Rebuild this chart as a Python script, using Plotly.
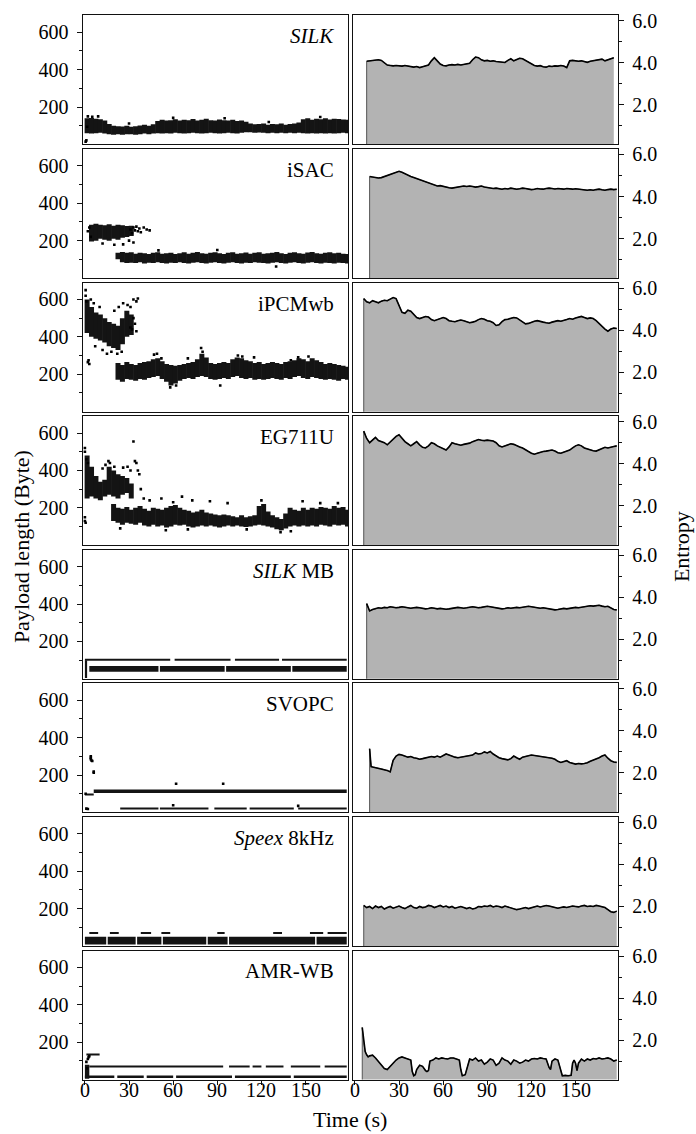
import plotly.graph_objects as go

W, H = 696, 1134
FONT = "Liberation Serif"

CODECS = ["<i>SILK</i>", "iSAC", "iPCMwb", "EG711U", "<i>SILK</i> MB", "SVOPC",
          "<i>Speex</i> 8kHz", "AMR-WB"]

X_TICKS = [0, 30, 60, 90, 120, 150]
PAY_TICKS = [200, 400, 600]
PAY_MINOR = [100, 300, 500]
ENT_TICKS = [2, 4, 6]
ENT_TICKTEXT = ["2.0", "4.0", "6.0"]
ENT_MINOR = [1, 3, 5]

# ---------------- payload length (dense point clouds as 3-s bins: low/high) ----
GRID_T = list(range(0, 178, 3))
N = None

SILK_LO = [60,58,60,62,58,55,52,55,52,55, 55,52,55,58,55,58,60,58,60,58,
           62,60,58,60,62,60,58,60,62,60, 58,60,62,60,58,62,65,65,62,64,
           62,60,62,60,62,60,62,60,62,60, 58,60,58,60,58,60,58,60,62,60]
SILK_HI = [140,142,138,135,128,110,100,98,96,100, 95,98,102,105,100,108,125,132,128,130,
           135,128,132,130,136,128,132,138,130,128, 134,130,128,132,126,128,122,112,108,110,
           112,106,110,108,112,106,110,112,118,135, 140,132,138,135,140,134,138,136,134,132]
SILK_OUT_T = [0.5, 1.0, 1.5, 2.0, 5, 9, 30, 60, 95, 125, 160]
SILK_OUT_V = [15, 22, 95, 150, 148, 150, 112, 142, 140, 120, 147]

ISAC_UP_LO = [N,195,200,210,205,200,210,205,215,220,225] + [N]*49
ISAC_UP_HI = [N,285,290,285,282,288,280,285,282,278,280] + [N]*49
ISAC_LO = [N]*7 + [100,85,80,82,80,85,78,82,80,85, 80,78,82,80,85,80,78,82,85,80,
                   78,82,85,80,78,82,85,80,78,82, 80,85,82,80,78,82,85,80,78,82,
                   85,80,78,82,85,80,78,82,80,78, 82,80,78]
ISAC_HI = [N]*7 + [135,140,135,138,130,135,132,128,135,138, 130,132,135,128,132,138,130,135,140,132,
                   130,135,138,132,128,135,138,130,132,136, 130,135,138,130,132,135,140,132,128,135,
                   138,132,130,136,140,132,130,135,138,132, 135,130,128]
ISAC_OUT_T = [2, 3, 4, 31, 32, 33, 34, 35, 36, 37, 38, 40, 42, 44, 30, 33, 26, 20, 12, 50, 90, 130]
ISAC_OUT_V = [250, 270, 220, 260, 240, 270, 255, 275, 250, 265, 245, 270, 260, 255, 200, 190, 180, 178, 185, 148, 150, 62]

IPCM_UP_LO = [420,400,390,380,370,350,340,330,360,400,410] + [N]*49
IPCM_UP_HI = [600,560,530,520,500,480,470,460,500,540,520] + [N]*49
IPCM_LO = [N]*7 + [170,160,175,170,165,175,170,180,185,190, 175,160,140,150,165,175,180,175,185,190,
                   185,175,170,175,180,175,185,190,180,175, 180,170,175,170,175,180,175,170,180,175,
                   185,190,180,175,185,180,175,170,175,170, 165,175,170]
IPCM_HI = [N]*7 + [260,250,265,255,250,260,265,270,280,285, 270,255,250,245,250,255,260,265,280,310,
                   290,260,255,260,265,260,280,290,285,275, 270,260,265,255,260,265,260,255,265,270,
                   275,285,280,270,285,275,265,255,260,255, 250,245,240]
IPCM_OUT_T = [0.5, 0.5, 1, 2, 2.5, 3, 4, 6, 10, 12, 15, 18, 20, 23, 26, 29, 31, 32, 33, 34, 35, 36,
              35, 33, 31, 7, 22, 25, 47, 49, 52, 58, 62, 79, 80, 104, 107, 145, 152, 70, 92, 115, 140]
IPCM_OUT_V = [650, 620, 590, 265, 275, 255, 600, 580, 560, 330, 310, 320, 540, 560, 580, 570, 560,
              440, 600, 470, 590, 605, 430, 500, 450, 350, 310, 320, 305, 310, 285, 130, 140, 340,
              320, 300, 295, 290, 295, 285, 140, 290, 275]

EG_UP_LO = [250,260,250,240,260,270,260,250,270,280,250] + [N]*49
EG_UP_HI = [480,420,370,340,350,420,400,380,370,360,330] + [N]*49
EG_LO = [N]*6 + [130,120,110,120,115,110,120,105,100,110, 100,105,95,100,110,105,110,100,95,100,
                 105,100,105,100,95,100,105,100,105,100, 98,100,105,110,105,100,95,85,80,90,
                 100,105,100,105,100,105,100,110,105,100, 110,105,110,100]
EG_HI = [N]*6 + [220,200,195,205,190,200,210,195,185,200, 195,190,200,210,215,200,190,185,175,180,
                 190,175,170,165,160,165,160,155,150,160, 150,155,160,210,220,180,160,150,140,170,
                 200,190,185,200,190,200,195,205,200,195, 210,200,205,190]
EG_OUT_T = [0, 0, 0, 0, 0.5, 1, 2, 12, 14, 16, 17, 20, 26, 29, 31, 33, 34, 35, 36, 37, 38, 40, 44,
            52, 60, 66, 73, 85, 97, 120, 133, 148, 160, 172, 24, 55, 70, 110, 140]
EG_OUT_V = [520, 500, 150, 130, 120, 460, 440, 410, 430, 450, 440, 420, 415, 420, 400, 555, 450,
            440, 400, 380, 300, 250, 240, 250, 230, 260, 240, 235, 225, 240, 70, 235, 225, 225,
            90, 80, 85, 85, 75]

# flat codecs: segments [t_start, t_end, low, high] (s, Byte)
SILKMB_SEGS = [[0, 1.5, 5, 100], [0, 58, 98, 106], [61, 99, 98, 106], [102, 132, 98, 106],
               [134, 178, 98, 106], [3, 50, 38, 68], [51, 95, 38, 68], [96, 140, 38, 68],
               [141, 178, 38, 68]]
SVOPC_SEGS = [[0, 6, 93, 99], [6, 178, 104, 122], [24, 50, 17, 23], [51, 84, 15, 26],
              [88, 110, 17, 23], [112, 142, 15, 26], [145, 178, 17, 23]]
SVOPC_OUT_T = [4, 4, 4, 4.5, 5, 6, 6, 62, 94, 1, 2, 0.5, 60, 145]
SVOPC_OUT_V = [300, 292, 285, 278, 275, 218, 212, 153, 153, 20, 18, 100, 38, 35]
SPEEX_SEGS = [[0, 14.5, 8, 50], [15.5, 34.5, 8, 50], [35.5, 52, 8, 50], [53, 82.5, 8, 50],
              [83.5, 97, 8, 50], [98, 156.5, 8, 50], [157.5, 178, 8, 50],
              [3, 9, 66, 73], [17, 23, 66, 73], [38, 45, 66, 73], [52, 58, 66, 73],
              [90, 95, 66, 73], [128, 134, 66, 73], [153, 162, 66, 73], [165, 178, 66, 73]]
AMR_SEGS = [[1, 10, 131, 139], [0, 3, 5, 80], [3, 94, 66, 74], [98, 112, 66, 74],
            [114, 120, 66, 74], [123, 135, 66, 74], [140, 160, 66, 74], [163, 178, 66, 74],
            [0, 20, 8, 22], [22, 40, 8, 22], [42, 60, 8, 22], [62, 100, 8, 22],
            [102, 140, 8, 22], [142, 178, 8, 22]]
AMR_OUT_T = [1, 2, 2.5, 3, 1.5]
AMR_OUT_V = [95, 110, 120, 125, 60]

# ---------------- entropy ----------------
SILK_E_T = list(range(8, 179, 2))
SILK_E = [4.08,4.1,4.12,4.14,4.15,4.12,4.0,3.9,3.88,3.86,3.88,3.87,3.85,3.88,3.86,3.84,3.8,3.83,
          3.78,3.82,3.85,3.9,4.1,4.25,4.1,3.95,3.88,3.86,3.9,3.92,3.9,3.93,3.9,3.92,3.95,3.98,
          4.15,4.28,4.25,4.15,4.1,4.12,4.08,4.1,4.07,4.05,4.02,4.02,4.12,4.2,4.1,4.15,4.22,4.2,
          4.12,4.05,3.98,3.88,3.85,3.87,3.82,3.8,3.85,3.83,3.86,3.85,3.88,3.85,3.78,4.1,4.12,
          4.1,4.08,4.1,4.05,4.03,4.08,4.1,4.12,4.15,4.18,4.1,4.15,4.2,4.25]
ISAC_E_T = list(range(10, 179, 2))
ISAC_E = [4.95,4.92,4.9,4.88,4.9,4.95,5.0,5.05,5.12,5.18,5.2,5.15,5.08,5.0,4.95,4.9,4.85,4.8,
          4.75,4.7,4.65,4.6,4.55,4.5,4.52,4.48,4.45,4.42,4.4,4.42,4.45,4.48,4.5,4.48,4.5,4.48,
          4.45,4.47,4.5,4.45,4.42,4.4,4.38,4.4,4.38,4.35,4.38,4.36,4.4,4.38,4.35,4.37,4.4,4.38,
          4.35,4.33,4.35,4.38,4.36,4.35,4.38,4.4,4.38,4.36,4.38,4.37,4.35,4.38,4.36,4.35,4.37,
          4.35,4.33,4.32,4.3,4.32,4.3,4.33,4.35,4.32,4.3,4.33,4.35,4.33,4.35]
IPCM_E_T = list(range(6, 179, 2))
IPCM_E = [5.5,5.35,5.3,5.4,5.35,5.3,5.38,5.42,5.4,5.48,5.55,5.5,5.2,4.85,4.8,4.95,4.9,4.75,4.6,
          4.55,4.6,4.65,4.62,4.5,4.45,4.5,4.55,4.6,4.55,4.45,4.42,4.4,4.45,4.48,4.45,4.4,4.35,
          4.38,4.42,4.5,4.55,4.52,4.45,4.42,4.35,4.22,4.25,4.4,4.5,4.52,4.55,4.6,4.58,4.5,4.4,
          4.3,4.32,4.38,4.42,4.45,4.4,4.38,4.35,4.33,4.38,4.42,4.45,4.42,4.45,4.5,4.55,4.52,
          4.58,4.62,4.65,4.6,4.55,4.58,4.55,4.45,4.3,4.2,4.05,3.95,4.05,4.1,4.08]
EG_E_T = list(range(6, 179, 2))
EG_E = [5.55,5.2,5.0,5.15,5.25,5.1,5.05,5.0,4.9,5.05,5.15,5.3,5.38,5.2,5.05,4.95,4.85,4.95,5.05,
        4.9,4.78,4.75,4.85,5.0,4.95,4.85,4.78,4.7,4.65,4.8,5.0,4.95,4.9,4.88,4.92,4.95,4.98,
        5.05,5.1,5.15,5.12,5.1,5.12,5.1,5.08,5.0,4.85,4.8,4.85,4.9,4.95,4.92,4.85,4.8,4.75,
        4.65,4.58,4.5,4.45,4.5,4.55,4.58,4.6,4.62,4.65,4.6,4.52,4.5,4.55,4.6,4.65,4.75,4.85,
        4.9,4.85,4.75,4.7,4.68,4.62,4.6,4.65,4.72,4.78,4.75,4.8,4.82,4.85]
SILKMB_E_T = list(range(8, 179, 2))
SILKMB_E = [3.7,3.35,3.42,3.45,3.5,3.48,3.52,3.5,3.55,3.53,3.5,3.52,3.55,3.53,3.5,3.48,3.5,3.52,
            3.5,3.48,3.45,3.47,3.5,3.48,3.45,3.47,3.45,3.43,3.45,3.48,3.5,3.52,3.5,3.48,3.5,
            3.52,3.55,3.53,3.5,3.52,3.55,3.57,3.55,3.52,3.5,3.48,3.45,3.47,3.5,3.48,3.5,3.52,
            3.5,3.53,3.55,3.57,3.55,3.52,3.5,3.48,3.5,3.47,3.45,3.42,3.4,3.42,3.45,3.47,3.45,
            3.48,3.5,3.52,3.5,3.53,3.55,3.57,3.6,3.58,3.6,3.62,3.58,3.55,3.57,3.5,3.42,3.4]
SVOPC_E_T = [10, 11] + list(range(12, 179, 2))
SVOPC_E = [3.15,2.3,2.28,2.25,2.22,2.2,2.15,2.12,2.05,2.6,2.8,2.88,2.85,2.8,2.75,2.78,2.72,2.7,
           2.65,2.68,2.72,2.75,2.78,2.75,2.8,2.75,2.82,2.9,2.85,2.78,2.75,2.72,2.75,2.78,2.8,
           2.82,2.85,2.95,2.9,2.92,3.0,2.95,3.02,2.9,2.8,2.72,2.68,2.65,2.62,2.68,2.8,2.72,2.65,
           2.75,2.8,2.82,2.85,2.83,2.82,2.8,2.78,2.75,2.72,2.7,2.65,2.55,2.5,2.55,2.58,2.5,2.45,
           2.42,2.45,2.43,2.45,2.48,2.55,2.6,2.65,2.72,2.8,2.85,2.7,2.58,2.52,2.5]
SPEEX_E_T = list(range(6, 179, 2))
SPEEX_E = [2.05,1.95,2.0,1.9,2.02,1.95,2.0,1.88,1.95,2.0,1.92,1.98,2.02,1.95,1.9,1.98,2.05,1.95,
           1.92,2.0,1.95,1.98,2.05,2.02,1.95,2.0,2.05,1.98,2.02,1.95,2.0,1.92,1.97,2.0,1.95,1.9,
           1.95,1.88,1.92,2.0,1.98,2.02,2.0,2.05,1.98,2.02,2.0,1.95,2.02,1.98,1.92,1.88,1.85,
           1.88,1.92,1.95,1.9,1.95,2.0,2.02,1.98,2.0,2.05,2.02,1.98,1.95,1.92,1.95,1.98,1.95,
           1.98,2.02,2.0,1.98,2.02,2.05,2.0,2.02,2.0,2.05,2.02,2.0,1.95,1.85,1.75,1.72,1.78]
AMR_E_T = [5,6,7,8,9,10,12,14,16,18,20,22,24,26,28,30,32,34,36,38,39,40,41,42,44,46,48,49,50,51,
           53,55,57,59,61,63,65,67,69,71,72,73,75,76,78,80,82,84,86,88,90,92,94,96,98,100,102,
           104,106,108,110,112,114,116,118,120,122,124,126,128,130,132,133,134,136,138,140,141,
           143,145,147,148,149,150,151,152,154,156,158,160,162,164,166,168,170,172,174,176,178]
AMR_E = [2.6,1.9,1.45,1.3,1.2,1.25,1.28,1.15,1.0,0.85,0.65,0.6,0.75,0.95,1.05,1.15,1.2,1.15,1.1,
         1.05,0.5,0.3,0.35,0.6,0.8,0.75,0.55,0.5,0.55,1.0,1.05,1.15,1.1,1.15,1.12,1.1,1.15,1.15,
         1.1,1.05,0.6,0.3,0.35,0.6,1.1,1.05,1.15,1.0,1.05,0.85,0.95,1.1,1.05,0.8,0.9,1.15,1.05,
         1.0,0.85,1.05,1.0,0.9,0.95,1.05,1.0,1.1,1.12,1.1,1.15,1.12,1.1,0.7,0.6,1.0,1.1,1.05,
         0.45,0.3,0.32,0.3,0.32,0.9,1.05,0.9,0.55,0.9,1.1,1.0,1.1,1.05,1.12,1.1,1.15,1.1,1.12,
         1.15,1.1,1.0,1.05]

PAYLOAD = [
    dict(grid=[(SILK_LO, SILK_HI)], segs=[], out=(SILK_OUT_T, SILK_OUT_V)),
    dict(grid=[(ISAC_UP_LO, ISAC_UP_HI), (ISAC_LO, ISAC_HI)], segs=[], out=(ISAC_OUT_T, ISAC_OUT_V)),
    dict(grid=[(IPCM_UP_LO, IPCM_UP_HI), (IPCM_LO, IPCM_HI)], segs=[], out=(IPCM_OUT_T, IPCM_OUT_V)),
    dict(grid=[(EG_UP_LO, EG_UP_HI), (EG_LO, EG_HI)], segs=[], out=(EG_OUT_T, EG_OUT_V)),
    dict(grid=[], segs=SILKMB_SEGS, out=([], [])),
    dict(grid=[], segs=SVOPC_SEGS, out=(SVOPC_OUT_T, SVOPC_OUT_V)),
    dict(grid=[], segs=SPEEX_SEGS, out=([], [])),
    dict(grid=[], segs=AMR_SEGS, out=(AMR_OUT_T, AMR_OUT_V)),
]
ENTROPY = [(SILK_E_T, SILK_E), (ISAC_E_T, ISAC_E), (IPCM_E_T, IPCM_E), (EG_E_T, EG_E),
           (SILKMB_E_T, SILKMB_E), (SVOPC_E_T, SVOPC_E), (SPEEX_E_T, SPEEX_E), (AMR_E_T, AMR_E)]

# ---------------- layout geometry (pixels) ----------------
ROW_TOP0, PITCH, ROW_H = 9.5, 134.3, 129.7
LX0, LX1 = 82.7, 348.2
RX0, RX1 = 352.7, 618.2
XR = [-1.5, 179]
PAY_R = [0, 690]
ENT_R = [0.12, 6.26]

fig = go.Figure()
layout = {}
axis_font = dict(family=FONT, size=20, color="black")
title_font = dict(family=FONT, size=22, color="black")


def px_x(p):
    return p / W


def px_y(p):
    return 1 - p / H


def add_bars(xa, ya, t0, t1, lo, hi, pad):
    fig.add_trace(go.Bar(x=[(a + b) / 2 for a, b in zip(t0, t1)],
                         y=[h - l for l, h in zip(lo, hi)], base=lo,
                         width=[b - a + pad for a, b in zip(t0, t1)],
                         marker=dict(color="#141414", line=dict(width=0)), opacity=1,
                         xaxis=xa, yaxis=ya, showlegend=False, hoverinfo="skip"))


annotations = []
for r in range(8):
    top = ROW_TOP0 + r * PITCH
    bot = top + ROW_H
    ydom = [px_y(bot), px_y(top)]
    li, ri = 2 * r + 1, 2 * r + 2
    lx, ly = f"x{li}", f"y{li}"
    rx, ry = f"x{ri}", f"y{ri}"
    last = r == 7
    for idx, dom in ((li, [px_x(LX0), px_x(LX1)]), (ri, [px_x(RX0), px_x(RX1)])):
        key = "xaxis" if idx == 1 else f"xaxis{idx}"
        layout[key] = dict(domain=dom, range=XR, anchor=f"y{idx}", showgrid=False,
                           zeroline=False, showline=True, linecolor="#111", linewidth=1.3,
                           mirror=True, ticks="outside" if last else "",
                           tickvals=X_TICKS if last else [], showticklabels=False,
                           ticklen=4, tickwidth=1, tickcolor="#111")
        if last:
            # x tick labels placed on the axis's own data coordinates
            for v in X_TICKS:
                annotations.append(dict(text=str(v), xref=f"x{idx}", yref="paper", x=v,
                                        y=px_y(1090), xanchor="center", yanchor="middle",
                                        showarrow=False, font=axis_font))
    layout["yaxis" if li == 1 else f"yaxis{li}"] = dict(
        domain=ydom, range=PAY_R, anchor=lx, showgrid=False, zeroline=False, showline=True,
        linecolor="#111", linewidth=1.3, mirror=True, ticks="outside", tickvals=PAY_TICKS,
        ticklen=5, tickwidth=1, tickcolor="#111", tickfont=axis_font, ticklabelstandoff=4,
        minor=dict(tickvals=PAY_MINOR, ticks="outside", ticklen=3, tickcolor="#111"))
    layout[f"yaxis{ri}"] = dict(
        domain=ydom, range=ENT_R, anchor=rx, side="right", showgrid=False, zeroline=False,
        showline=True, linecolor="#111", linewidth=1.3, mirror=True, ticks="outside",
        tickvals=ENT_TICKS, ticktext=ENT_TICKTEXT, ticklen=5, tickwidth=1, tickcolor="#111",
        tickfont=axis_font, ticklabelstandoff=4,
        minor=dict(tickvals=ENT_MINOR, ticks="outside", ticklen=3, tickcolor="#111"))

    # payload cloud
    spec = PAYLOAD[r]
    for lo_l, hi_l in spec["grid"]:
        t0, t1, lo, hi = [], [], [], []
        for t, a, b in zip(GRID_T, lo_l, hi_l):
            if a is None:
                continue
            t0.append(t); t1.append(t + 3); lo.append(a); hi.append(b)
        add_bars(lx, ly, t0, t1, lo, hi, 0.4)
    if spec["segs"]:
        s = spec["segs"]
        add_bars(lx, ly, [q[0] for q in s], [q[1] for q in s], [q[2] for q in s],
                 [q[3] for q in s], 0)
    ot, ov = spec["out"]
    if ot:
        fig.add_trace(go.Scatter(x=ot, y=ov, mode="markers",
                                 marker=dict(color="black", size=2.6, symbol="square"),
                                 xaxis=lx, yaxis=ly, showlegend=False, hoverinfo="skip"))

    # entropy area
    et, ev = ENTROPY[r]
    fig.add_trace(go.Scatter(x=[et[0]] + et, y=[0] + ev, mode="lines", fill="tozeroy",
                             fillcolor="#b3b3b3", line=dict(color="#555", width=1),
                             xaxis=rx, yaxis=ry, showlegend=False, hoverinfo="skip"))
    fig.add_trace(go.Scatter(x=et, y=ev, mode="lines", line=dict(color="black", width=1.6),
                             xaxis=rx, yaxis=ry, showlegend=False, hoverinfo="skip"))

for r, name in enumerate(CODECS):
    top = ROW_TOP0 + r * PITCH
    annotations.append(dict(text=name, xref="paper", yref="paper", x=px_x(336), y=px_y(top + 21),
                            xanchor="right", yanchor="middle", showarrow=False,
                            font=dict(family=FONT, size=21, color="black")))
annotations.append(dict(text="Payload length (Byte)", xref="paper", yref="paper", x=px_x(21),
                        y=px_y(544), textangle=-90, showarrow=False, xanchor="center",
                        yanchor="middle", font=title_font))
annotations.append(dict(text="Entropy", xref="paper", yref="paper", x=px_x(681), y=px_y(544),
                        textangle=-90, showarrow=False, xanchor="center", yanchor="middle",
                        font=title_font))
annotations.append(dict(text="Time (s)", xref="paper", yref="paper", x=px_x(350), y=px_y(1119),
                        showarrow=False, xanchor="center", yanchor="middle", font=title_font))

fig.update_layout(width=W, height=H, autosize=False, margin=dict(l=0, r=0, t=0, b=0),
                  paper_bgcolor="white", plot_bgcolor="white", barmode="overlay",
                  showlegend=False, annotations=annotations, **layout)
fig.write_html("out.html")
